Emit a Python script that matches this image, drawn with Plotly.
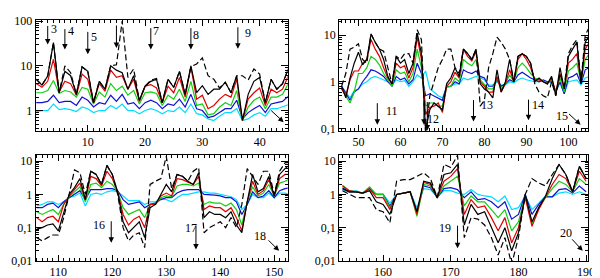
import math
import plotly.graph_objects as go
from plotly.subplots import make_subplots

# ---------------- data ----------------
x1 = list(range(1, 46))
black1 = [5.0,3.7,5.9,33,2.5,7.5,6,2.3,9.5,7.5,1.5,4.5,3,10,8,7,3,6,1.7,3.5,4.5,5,1.5,5,3.3,7.5,2.3,10,2.5,3.6,2.3,3,3,4.3,2.5,6,0.6,2.3,4.5,5.5,1.5,5,3,4,8.5]
dashed1 = [5.0,3.7,5.9,33,2.5,10,7,2.3,9.5,7.5,1.5,4.5,3,10,10.5,100,5.5,8.5,1.7,3.5,4.8,5.2,1.5,5,3.3,7.5,2.3,9.5,11,15,6,5,3.2,4.3,2.5,6,6,4.8,8.5,6.5,1.5,5,3,4,8.5]
red1 = [4,3.3,4.5,14,2.6,4.5,4,2.2,6.5,5,1.5,4,2.7,8,5.5,6,3,5,1.6,3.5,3.8,3.2,1.5,3.5,2.5,5.5,2,9.5,1.8,2.2,1.1,1.3,1.8,2.3,2,5,0.6,1.8,2.5,3.2,1.3,3,2.5,3,6]
green1 = [2.5,2.5,2.8,4.7,2.4,2.8,2.6,2,3.3,3,1.4,2.6,2,4,2.8,3.5,2.2,2.8,1.4,2.5,2.6,2.4,1.3,2.2,1.8,3,1.6,4.5,1.3,1.4,0.8,0.85,1.2,1.5,1.3,2.8,0.6,1.2,1.7,2,1.1,2,2,2.3,4]
blue1 = [1.5,1.5,1.6,2.2,1.5,1.6,1.6,1.3,2,1.7,1.2,1.5,1.4,2.2,1.6,2.3,1.4,1.5,1.1,1.5,1.7,1.5,1.1,1.4,1.3,1.8,1.2,2.3,1.1,1.0,0.7,0.75,0.9,1.1,1.1,1.7,0.65,0.9,1.1,1.3,0.9,1.4,1.5,1.6,2.1]
cyan1 = [0.95,1.0,1.0,1.4,1.05,1.1,1.05,0.95,1.2,1.1,0.9,1.0,1.0,1.3,1.1,1.4,1.0,1.0,0.85,1.0,1.1,1.0,0.85,1.0,0.95,1.2,0.9,1.4,0.85,0.8,0.65,0.6,0.75,0.9,0.9,1.1,0.6,0.65,0.8,0.9,0.75,1.1,1.1,1.2,1.35]

x2 = list(range(46, 106))
black2 = [0.8,0.45,1.2,2.5,4.3,2.3,3,10.5,7,5,3,1.3,0.9,3.5,2.5,3,1.5,2.5,11,4,0.09,0.25,0.35,0.3,0.25,0.9,1.2,2,1.3,5,4,3,5,0.9,0.7,0.6,0.45,1.8,0.6,1,3,1,3.5,4,3.5,2.5,1.0,1.2,1.0,0.9,1.3,0.5,2,0.7,3.5,5,7,0.9,7,10]
dashed2 = [0.8,1.5,5,5.5,6.5,3,2.5,10.5,7,5,4.5,2,0.9,3.5,3,4,4,2.5,13,8,0.07,0.5,1,2,3,5,5,2,1.5,5,4,3,5,0.3,0.4,2,4,9,7,5,3,1,3.5,4,3.5,2.5,0.9,0.6,0.5,0.45,1,0.5,1.5,0.8,4,6,8,1,10,15]
red2 = [0.7,0.5,1.1,1.7,1.7,2.5,3,8,5,3.5,2,1.2,0.9,2.5,2,2.2,1.2,2,9,3,0.2,0.28,0.3,0.35,0.22,0.8,1,1.6,1.2,5,3.5,2.8,4.5,1.0,0.8,0.6,0.6,1.3,0.6,0.9,1.8,1,3,4,3,2,1.1,1.1,1,0.9,1.2,0.6,1.5,0.7,2.5,3,4,1,5,7]
green2 = [0.7,0.5,0.35,0.6,1.5,1.5,2,3.5,3,2.3,1.5,1.1,0.8,1.8,1.5,1.6,1,1.5,5,2,0.3,0.35,0.35,0.3,0.3,0.75,0.8,1.2,1.0,3,2.5,2.2,3,1.1,0.9,0.7,0.7,1.2,0.7,0.9,1.4,1.0,2,2.5,2,1.5,1.2,1.1,1.0,0.95,1.1,0.6,1.2,0.6,1.7,2,2.5,1,3,4]
blue2 = [0.8,0.55,0.4,0.6,0.7,1.0,1.3,1.8,1.7,1.5,1.3,1.0,0.8,1.3,1.1,1.2,0.9,1.1,2.5,1.5,0.5,0.55,0.5,0.45,0.4,0.8,0.8,1.0,0.9,1.8,1.6,1.5,1.7,1.3,1.2,0.8,0.8,1.1,0.8,0.9,1.1,1.0,1.4,1.6,1.4,1.2,1.1,1.0,1.1,1.0,1.0,0.6,1.0,0.55,1.2,1.3,1.5,0.9,1.8,2]
cyan2 = [0.8,0.6,0.45,0.65,0.7,0.9,1.0,1.2,1.3,1.2,1.1,1.0,0.85,1.1,1.0,1.05,0.8,1.0,1.4,1.2,1.7,0.7,0.6,0.5,0.45,0.75,0.8,0.9,0.9,1.2,1.1,1.2,1.3,1.2,1.1,0.85,0.85,1.0,0.85,0.85,1.0,0.95,1.1,1.2,1.1,1.05,1.0,1.0,1.05,1.0,0.95,0.65,0.95,0.55,1.0,1.05,1.1,0.85,1.2,1.3]

x3 = list(range(106, 154))
black3 = [0.09,0.1,0.12,0.13,0.08,0.3,1,1.6,3,0.7,5,4,2,7.5,4,1.2,0.15,0.07,0.1,0.15,0.05,0.4,0.5,1,2,1.2,4,3.5,2.5,2,4.5,0.2,0.3,0.25,0.25,0.2,0.3,0.12,0.07,0.6,4,1.2,1.5,3.5,0.9,4,6,8]
dashed3 = [0.05,0.04,0.05,0.06,0.06,0.2,1,5.5,4.5,1,5,4,2,7.5,4,1,0.1,0.04,0.06,0.07,0.025,2,2.5,3,14,1.5,4,3.5,2.5,5,6.5,0.07,0.1,0.12,0.15,0.1,0.2,0.1,0.5,6,3.5,2,5,5,1,5,9,9]
red3 = [0.2,0.15,0.2,0.22,0.15,0.5,0.9,1.4,2.2,0.7,3.5,3,1.8,5,3,1.2,0.25,0.12,0.18,0.22,0.1,0.5,0.5,0.9,1.1,0.9,3,2.8,2.3,2,3.5,0.35,0.45,0.4,0.4,0.3,0.4,0.2,0.08,0.6,2.5,1.0,1.3,2.8,0.9,3,4,4]
green3 = [0.3,0.25,0.3,0.35,0.25,0.5,0.85,1.2,1.7,0.6,2,2.2,1.6,2.5,2,1.2,0.4,0.25,0.3,0.35,0.2,0.5,0.5,0.8,0.9,0.85,1.8,2,2,1.8,2.2,0.5,0.6,0.55,0.55,0.45,0.55,0.35,0.12,0.6,1.7,0.9,1.1,2,0.9,2.2,2.5,3]
blue3 = [0.4,0.4,0.5,0.55,0.4,0.6,0.8,1.0,1.3,0.7,1.4,1.4,1.4,1.5,1.5,1.3,0.7,0.5,0.55,0.6,0.4,0.5,0.55,0.7,0.8,0.8,1.1,1.3,1.4,1.4,1.4,1.0,1.0,0.95,0.9,0.8,0.8,0.6,0.25,0.5,1.2,0.8,0.9,1.3,0.8,1.3,1.5,1.6]
cyan3 = [0.45,0.5,0.6,0.6,0.5,0.6,0.8,0.9,1.1,0.45,1.0,1.1,1.0,1.2,1.3,1.2,0.9,0.65,0.65,0.65,0.5,0.6,0.6,0.75,0.7,0.6,0.8,1.0,1.0,1.1,1.2,1.2,1.1,1.1,1.0,0.9,0.85,0.7,0.35,0.5,1.0,0.8,0.8,1.1,0.8,1.1,1.1,1.0]

x4 = list(range(154, 191))
black4 = [1.5,1.2,1.2,1.1,1.3,0.6,0.5,0.25,1.0,1.1,1.2,0.3,2.5,2.2,0.8,4,4.5,8,0.12,0.5,0.25,0.3,0.1,0.035,0.1,0.02,0.07,1.0,0.15,0.4,0.9,3,8,4,1.2,7,3]
dashed4 = [1.3,1.0,0.8,0.8,0.8,0.35,0.3,0.14,2.5,2.8,2.8,3.5,4.5,3,0.8,8,6.5,15,0.05,0.2,0.18,0.12,0.05,0.015,0.05,0.008,0.05,1.0,3,2.2,1.8,4,8,4,1.2,7,3]
red4 = [1.8,1.3,1.2,1.1,1.5,0.8,0.8,0.35,1.0,1.1,1.2,0.25,2.3,2,0.8,2.5,3.5,6,0.25,0.7,0.4,0.45,0.2,0.08,0.2,0.035,0.1,0.8,0.11,0.35,0.8,2,4,3,1.2,5,2.5]
green4 = [1.9,1.3,1.2,1.1,1.7,1.0,1.0,0.4,1.0,1.1,1.2,0.22,2.0,1.8,0.8,1.8,2.5,3.5,0.45,0.9,0.6,0.6,0.35,0.2,0.35,0.08,0.15,0.9,0.13,0.4,0.8,1.5,2.5,2,1.2,3,2]
blue4 = [1.6,1.2,1.2,1.1,1.5,1.0,1.0,0.45,1.0,1.1,1.2,0.3,1.8,1.6,0.8,1.5,1.6,1.4,0.8,1.2,0.7,0.75,0.6,0.4,0.6,0.18,0.25,1.0,0.25,0.5,0.85,0.85,1.4,1.5,1.1,1.8,1.2]
cyan4 = [1.4,1.2,1.3,1.1,1.3,1.0,1.0,0.55,1.0,1.1,1.2,0.4,1.5,1.4,0.85,1.3,1.3,1.1,1.0,1.4,1.0,0.9,0.85,0.6,0.9,0.35,0.4,0.9,0.35,0.55,0.9,0.85,1.1,1.2,1.0,1.2,1.0]

# arrow marks: (panel, x, tip value, ax, ay)
arrows = [
    (1, 3, 30, 0, -20), (1, 6, 23, 0, -22), (1, 10, 18, 0, -24), (1, 15, 25, 0, -24),
    (1, 21, 23, 0, -23), (1, 28, 23, 0, -23), (1, 36.2, 24, 0, -23), (1, 44.2, 0.55, -14, -13),
    (2, 54.5, 0.12, 0, -23), (2, 65.6, 0.12, 0, -23), (2, 66.4, 0.09, 0, -30),
    (2, 77.4, 0.14, 0, -23), (2, 90.5, 0.15, 0, -22), (2, 102.9, 0.12, -13, -12),
    (3, 119.8, 0.035, 0, -23), (3, 135.5, 0.022, 0, -25), (3, 150.9, 0.02, -12, -12),
    (4, 171, 0.024, 0, -24), (4, 189.5, 0.02, -12, -13),
]
# labels: (panel, x, value, text)
labels = [
    (1, 4.1, 66, "3"), (1, 7, 60, "4"), (1, 11, 45, "5"), (1, 21.9, 60, "7"),
    (1, 28.9, 49, "8"), (1, 37.9, 55, "9"),
    (2, 58, 0.24, "11"), (2, 67.8, 0.16, "12"), (2, 80.5, 0.31, "13"),
    (2, 92.8, 0.32, "14"), (2, 98.5, 0.18, "15"),
    (3, 117.6, 0.117, "16"), (3, 134.6, 0.098, "17"), (3, 147.4, 0.057, "18"),
    (4, 169.2, 0.097, "19"), (4, 187, 0.069, "20"),
]

# ---------------- figure ----------------
W, H = 600, 278
fig = make_subplots(rows=2, cols=2)

panels = [
    (x1, [cyan1, blue1, green1, red1, black1, dashed1]),
    (x2, [cyan2, blue2, green2, red2, black2, dashed2]),
    (x3, [cyan3, blue3, green3, red3, black3, dashed3]),
    (x4, [cyan4, blue4, green4, red4, black4, dashed4]),
]
styles = [
    dict(color="#00dcff", width=1.2),
    dict(color="#1010d0", width=1.2),
    dict(color="#10d010", width=1.2),
    dict(color="#e00000", width=1.2),
    dict(color="#000000", width=1.2),
    dict(color="#000000", width=1.2, dash="6px,3px"),
]
pos = [(1, 1), (1, 2), (2, 1), (2, 2)]
for (xs, series), (r, c) in zip(panels, pos):
    for ys, st in zip(series, styles):
        fig.add_trace(go.Scatter(x=xs, y=ys, mode="lines", line=st, showlegend=False,
                                 hoverinfo="skip"), row=r, col=c)

FAM = "Liberation Serif, Times New Roman, serif"
font = dict(family=FAM, size=12, color="#000000")

xranges = [[0.9, 44.9], [45.4, 104.7], [105.8, 152.5], [153.5, 190.3]]
yranges = [[-0.45, 2.03], [-1.05, 1.33], [-2.0, 1.2], [-2.0, 1.2]]
xdom_px = [(28, 283), (335, 587), (28, 283), (335, 587)]
ydom_px = [(7, 123), (7, 123), (148, 259), (148, 259)]

major_y = [0.01, 0.1, 1, 10, 100]
major_txt = ["0,01", "0,1", "1", "10", "100"]
minor_y = [k * 10.0 ** e for e in range(-3, 3) for k in range(2, 10)]

for i in range(4):
    ax = "" if i == 0 else str(i + 1)
    x0, x1p = xdom_px[i]
    y0, y1p = ydom_px[i]
    fig.layout["xaxis" + ax].update(
        domain=[x0 / W, x1p / W], range=xranges[i], showgrid=False, zeroline=False,
        showline=True, linecolor="black", linewidth=1, mirror="allticks",
        ticks="inside", ticklen=6, tickcolor="black", dtick=10, tick0=0,
        minor=dict(ticks="inside", ticklen=3, dtick=1, tick0=0, tickcolor="black", showgrid=False),
        tickfont=font)
    fig.layout["yaxis" + ax].update(
        domain=[1 - y1p / H, 1 - y0 / H], type="log", range=yranges[i], showgrid=False,
        zeroline=False, showline=True, linecolor="black", linewidth=1, mirror="allticks",
        ticks="inside", ticklen=7, tickcolor="black",
        tickmode="array", tickvals=major_y, ticktext=major_txt,
        minor=dict(ticks="inside", ticklen=3, tickmode="array", tickvals=minor_y,
                   tickcolor="black", showgrid=False),
        tickfont=font)

def refs(p):
    return ("x", "y") if p == 1 else ("x%d" % p, "y%d" % p)

for p, xv, tip, axp, ayp in arrows:
    xr, yr = refs(p)
    fig.add_annotation(x=xv, y=math.log10(tip), xref=xr, yref=yr, text="",
                       showarrow=True, arrowhead=2, arrowsize=1.1, arrowwidth=1,
                       arrowcolor="black", ax=axp, ay=ayp, standoff=0)
for p, xv, val, t in labels:
    xr, yr = refs(p)
    fig.add_annotation(x=xv, y=math.log10(val), xref=xr, yref=yr, text=t,
                       showarrow=False, font=dict(family=FAM, size=12, color="#000000"))

fig.update_layout(width=W, height=H, margin=dict(l=0, r=0, t=0, b=0),
                  paper_bgcolor="white", plot_bgcolor="white", font=font)
fig.write_html("out.html")
